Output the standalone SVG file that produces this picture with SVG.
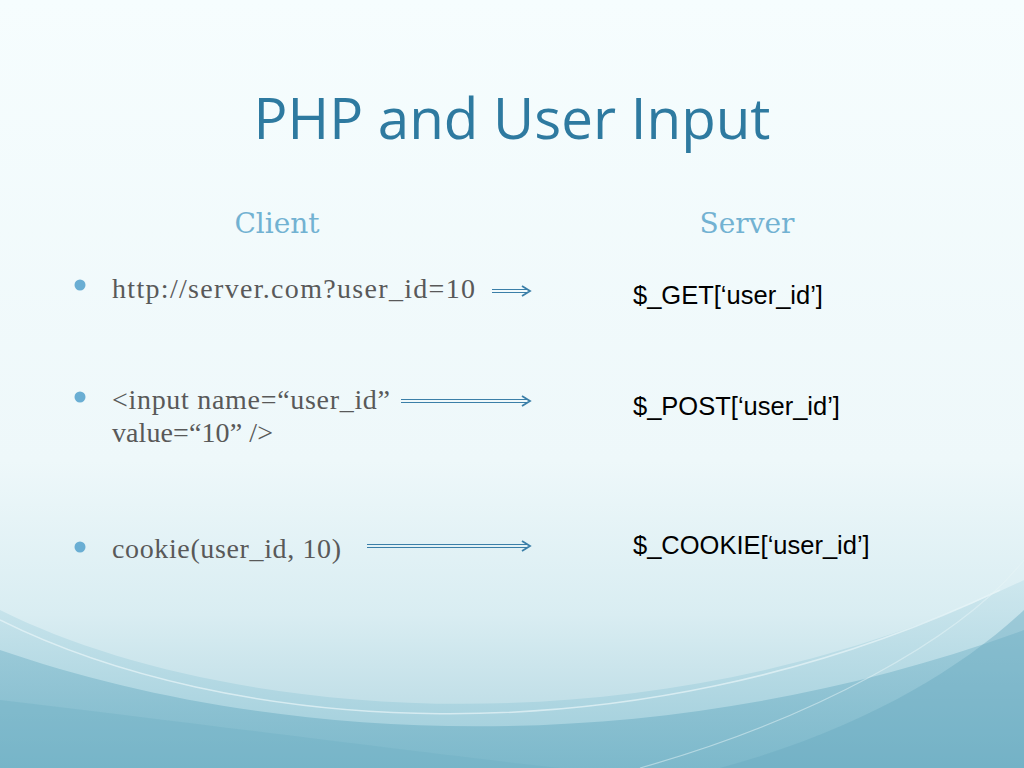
<svg xmlns="http://www.w3.org/2000/svg" width="1024" height="768" viewBox="0 0 1024 768">
<defs>
<linearGradient id="bg" x1="0" y1="0" x2="0" y2="1">
<stop offset="0" stop-color="#f6fdfe"/>
<stop offset="0.6" stop-color="#eef8fa"/>
<stop offset="0.8" stop-color="#d9edf2"/>
<stop offset="1" stop-color="#b0d5e0"/>
</linearGradient>
<linearGradient id="w1" x1="0" y1="0" x2="0" y2="1">
<stop offset="0" stop-color="#93c5d5"/>
<stop offset="1" stop-color="#72b2c6"/>
</linearGradient>
<linearGradient id="w2" x1="0" y1="0" x2="0" y2="1">
<stop offset="0" stop-color="#c6e3eb" stop-opacity="0.7"/>
<stop offset="1" stop-color="#9acbd9" stop-opacity="0.9"/>
</linearGradient>
<style>
.title{font-family:"Open Sans","Noto Sans",sans-serif;font-size:56.5px;fill:#2e7aa0}
.hdr{font-family:"DejaVu Serif","Liberation Serif",serif;font-size:28px;fill:#72b2d2}
.body{font-family:"Liberation Serif","DejaVu Serif",serif;font-size:28px;fill:#595959}
.srv{font-family:"Liberation Sans",Arial,sans-serif;font-size:25.5px;fill:#000}
.bullet{fill:#6aaed3}
.dl{stroke:#3b7fa8;stroke-width:1.2;fill:none}
.hd{stroke:#3b7fa8;stroke-width:1.8;fill:none}
</style>
</defs>
<rect width="1024" height="768" fill="url(#bg)"/>
<path d="M0,610 C220,720 650,760 1024,580 L1024,768 L0,768 Z" fill="url(#w2)"/>
<path d="M0,650 C260,740 640,770 1024,630 L1024,768 L0,768 Z" fill="url(#w1)" opacity="0.75"/>
<path d="M0,700 C250,730 480,760 560,768 L0,768 Z" fill="#6eaec2" opacity="0.35"/>
<path d="M720,768 C860,730 960,670 1024,610 L1024,768 Z" fill="#6aabc0" opacity="0.45"/>
<path d="M0,620 C220,730 620,770 1000,590" fill="none" stroke="#e8f5f8" stroke-width="1.5" opacity="0.7"/>
<path d="M640,768 C810,720 960,640 1024,560" fill="none" stroke="#e8f5f8" stroke-width="1.2" opacity="0.5"/>

<g id="title"><text class="title" x="512" y="139" text-anchor="middle">PHP and User Input</text></g>
<g id="client-header"><text class="hdr" x="277" y="233" text-anchor="middle">Client</text></g>
<g id="server-header"><text class="hdr" x="747" y="233" text-anchor="middle">Server</text></g>

<g id="client-get">
<circle class="bullet" cx="80" cy="285" r="5.5"/>
<text class="body" x="112" y="298" textLength="363" lengthAdjust="spacing">http://server.com?user_id=10</text>
</g>
<g id="client-post">
<circle class="bullet" cx="80" cy="397" r="5.5"/>
<text class="body" x="112" y="409" textLength="278" lengthAdjust="spacing">&lt;input name=“user_id”</text>
<text class="body" x="112" y="442" textLength="161" lengthAdjust="spacing">value=“10” /&gt;</text>
</g>
<g id="client-cookie">
<circle class="bullet" cx="80" cy="547" r="5.5"/>
<text class="body" x="112" y="558" textLength="229" lengthAdjust="spacing">cookie(user_id, 10)</text>
</g>

<g id="server-get"><text class="srv" x="633" y="304">$_GET[‘user_id’]</text></g>
<g id="server-post"><text class="srv" x="633" y="415">$_POST[‘user_id’]</text></g>
<g id="server-cookie"><text class="srv" x="633" y="554">$_COOKIE[‘user_id’]</text></g>

<g id="connectors">
<path class="dl" d="M492,289.5 H527 M492,292.5 H527"/>
<path class="hd" d="M522,286 L530,291 L522,296"/>
<path class="dl" d="M401,399.5 H527 M401,402.5 H527"/>
<path class="hd" d="M522,396 L530,401 L522,406"/>
<path class="dl" d="M367,544.5 H527 M367,547.5 H527"/>
<path class="hd" d="M522,541 L530,546 L522,551"/>
</g>
</svg>
